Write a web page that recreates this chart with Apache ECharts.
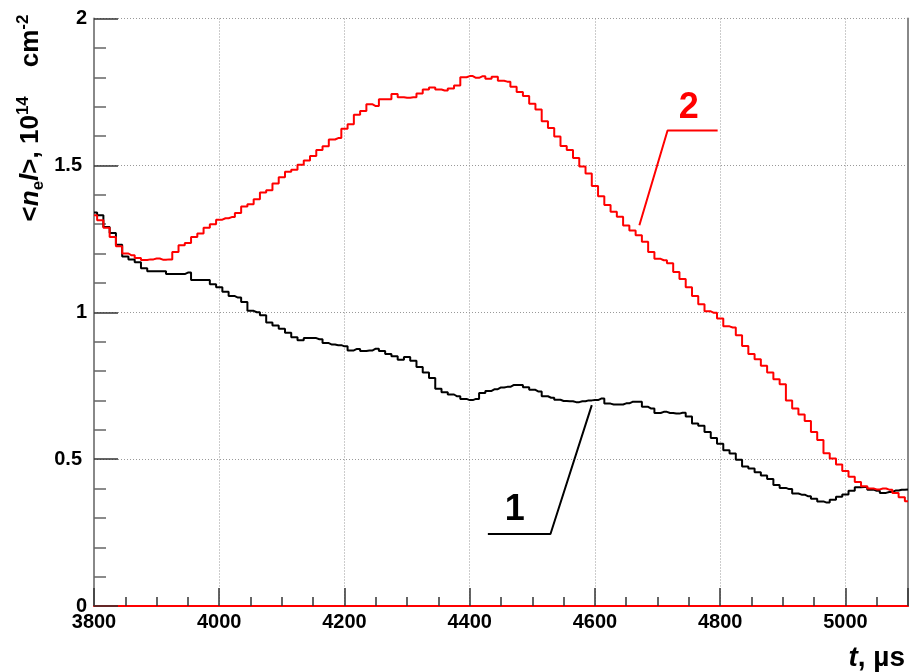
<!DOCTYPE html>
<html>
<head>
<meta charset="utf-8">
<script src="https://cdn.jsdelivr.net/npm/echarts@6/dist/echarts.min.js"></script>
<style>
  html, body { margin: 0; padding: 0; background: #fff; }
  #chart { width: 911px; height: 672px; }
</style>
</head>
<body>
<div id="chart"></div>
<script>
// Time bins, µs
const times = [
  3800, 3810, 3820, 3830, 3840, 3850, 3860, 3870, 3880, 3890,
  3900, 3910, 3920, 3930, 3940, 3950, 3960, 3970, 3980, 3990,
  4000, 4010, 4020, 4030, 4040, 4050, 4060, 4070, 4080, 4090,
  4100, 4110, 4120, 4130, 4140, 4150, 4160, 4170, 4180, 4190,
  4200, 4210, 4220, 4230, 4240, 4250, 4260, 4270, 4280, 4290,
  4300, 4310, 4320, 4330, 4340, 4350, 4360, 4370, 4380, 4390,
  4400, 4410, 4420, 4430, 4440, 4450, 4460, 4470, 4480, 4490,
  4500, 4510, 4520, 4530, 4540, 4550, 4560, 4570, 4580, 4590,
  4600, 4610, 4620, 4630, 4640, 4650, 4660, 4670, 4680, 4690,
  4700, 4710, 4720, 4730, 4740, 4750, 4760, 4770, 4780, 4790,
  4800, 4810, 4820, 4830, 4840, 4850, 4860, 4870, 4880, 4890,
  4900, 4910, 4920, 4930, 4940, 4950, 4960, 4970, 4980, 4990,
  5000, 5010, 5020, 5030, 5040, 5050, 5060, 5070, 5080, 5090,
  5100
];

// Line-integrated density <n_e l>, 10^14 cm^-2 — shot 1 (black)
const density1 = [
  1.34, 1.33, 1.29, 1.27, 1.23, 1.19, 1.18, 1.17, 1.15, 1.14,
  1.14, 1.14, 1.13, 1.13, 1.13, 1.135, 1.11, 1.11, 1.11, 1.095,
  1.085, 1.07, 1.055, 1.05, 1.035, 1.005, 1.0, 0.99, 0.965, 0.955,
  0.944, 0.93, 0.915, 0.905, 0.912, 0.912, 0.908, 0.895, 0.89, 0.888,
  0.884, 0.87, 0.875, 0.868, 0.87, 0.876, 0.868, 0.858, 0.85, 0.838,
  0.848, 0.835, 0.814, 0.795, 0.776, 0.74, 0.728, 0.72, 0.714, 0.705,
  0.701, 0.705, 0.725, 0.732, 0.738, 0.744, 0.746, 0.752, 0.752, 0.745,
  0.736, 0.73, 0.714, 0.709, 0.702, 0.698, 0.697, 0.694, 0.697, 0.70,
  0.701, 0.706, 0.689, 0.686, 0.686, 0.69, 0.695, 0.695, 0.678, 0.672,
  0.657, 0.661, 0.657, 0.655, 0.658, 0.645, 0.621, 0.614, 0.592, 0.572,
  0.552, 0.53, 0.519, 0.498, 0.475, 0.468, 0.455, 0.444, 0.432, 0.412,
  0.402, 0.398, 0.383, 0.379, 0.374, 0.365, 0.356, 0.352, 0.362, 0.372,
  0.38, 0.392, 0.404, 0.405, 0.396, 0.392, 0.385, 0.388, 0.393, 0.396,
  0.397
];

// Line-integrated density <n_e l>, 10^14 cm^-2 — shot 2 (red)
const density2 = [
  1.33, 1.313, 1.288, 1.256, 1.225, 1.20, 1.194, 1.185, 1.178, 1.18,
  1.183, 1.179, 1.18, 1.205, 1.228, 1.236, 1.256, 1.268, 1.288, 1.30,
  1.315, 1.32, 1.324, 1.338, 1.36, 1.368, 1.385, 1.408, 1.415, 1.438,
  1.46, 1.478, 1.485, 1.502, 1.517, 1.532, 1.552, 1.565, 1.588, 1.593,
  1.625, 1.64, 1.672, 1.685, 1.708, 1.702, 1.725, 1.725, 1.743, 1.732,
  1.73, 1.732, 1.745, 1.758, 1.765, 1.758, 1.755, 1.762, 1.772, 1.80,
  1.804, 1.798, 1.803, 1.795, 1.802, 1.788, 1.785, 1.768, 1.75, 1.736,
  1.71, 1.69, 1.65, 1.627, 1.598, 1.566, 1.552, 1.525, 1.496, 1.472,
  1.43, 1.395, 1.365, 1.342, 1.325, 1.295, 1.278, 1.262, 1.24, 1.205,
  1.182, 1.177, 1.167, 1.137, 1.113, 1.085, 1.055, 1.027, 1.003, 0.998,
  0.979, 0.952, 0.948, 0.922, 0.885, 0.858, 0.84, 0.818, 0.795, 0.772,
  0.755, 0.70, 0.672, 0.652, 0.63, 0.592, 0.565, 0.52, 0.502, 0.482,
  0.46, 0.44, 0.422, 0.408, 0.40, 0.397, 0.40, 0.396, 0.385, 0.37,
  0.357
];

// Axis ticks
const xTicks = [3800, 4000, 4200, 4400, 4600, 4800, 5000];
const yTicks = [0, 0.5, 1, 1.5, 2];

// Curve tags and their leader lines, in data coordinates
const tagText = ['1', '2'];
const tagPos = [[4472, 0.327], [4750, 1.694]];
const leader1 = [[4429, 0.245], [4529, 0.245], [4595, 0.684]];
const leader2 = [[4796, 1.619], [4716, 1.619], [4671, 1.296]];

const FONT = '"Liberation Sans", Arial, Helvetica, sans-serif';

const pairs = (ys) => times.map((t, i) => [t, ys[i]]);

const chart = echarts.init(document.getElementById('chart'), null, { renderer: 'canvas' });

const option = {
  animation: false,
  backgroundColor: '#ffffff',
  grid: { left: 94, right: 1, top: 18.5, bottom: 66, containLabel: false },
  xAxis: {
    type: 'value',
    min: xTicks[0],
    max: 5100,
    interval: 200,
    axisLine: { show: true, onZero: false, lineStyle: { color: '#ff0000', width: 2 } },
    axisTick: { show: true, inside: true, length: 18, lineStyle: { color: '#333', width: 1.5 } },
    minorTick: { show: true, splitNumber: 4, length: 9, lineStyle: { color: '#333', width: 1.5 } },
    splitLine: { show: true, lineStyle: { color: '#999', type: [1, 2], width: 1 } },
    axisLabel: {
      show: true, margin: 6, color: '#000', fontFamily: FONT, fontWeight: 'bold', fontSize: 20,
      formatter: (v) => (xTicks.indexOf(v) >= 0 ? String(v) : '')
    }
  },
  yAxis: [
    {
      type: 'value',
      min: yTicks[0],
      max: yTicks[yTicks.length - 1],
      interval: 0.5,
      axisLine: { show: true, onZero: false, lineStyle: { color: '#888', width: 2 } },
      axisTick: { show: true, inside: true, length: 24, lineStyle: { color: '#333', width: 1.5 } },
      minorTick: { show: true, splitNumber: 5, length: 12, lineStyle: { color: '#666', width: 1.5 } },
      splitLine: { show: true, lineStyle: { color: '#999', type: [1, 2], width: 1 } },
      axisLabel: {
        show: true, margin: 7, color: '#000', fontFamily: FONT, fontWeight: 'bold', fontSize: 20,
        formatter: (v) => (v % 1 === 0 ? '{i|' + v + '}' : '{d|' + v + '}'),
        rich: {
          i: { fontFamily: FONT, fontWeight: 'bold', fontSize: 20, color: '#000' },
          d: { fontFamily: FONT, fontWeight: 'bold', fontSize: 20, color: '#000', padding: [0, 5, 0, 0] }
        }
      }
    },
    {
      type: 'value',
      position: 'right',
      min: 0, max: 2,
      axisLine: { show: true, onZero: false, lineStyle: { color: '#888', width: 2 } },
      axisTick: { show: false },
      axisLabel: { show: false },
      splitLine: { show: false }
    }
  ],
  series: [
    {
      name: '1', type: 'line', step: 'middle', data: pairs(density1),
      showSymbol: false, symbol: 'none', silent: true,
      lineStyle: { color: '#000000', width: 2 }, z: 3
    },
    {
      name: '2', type: 'line', step: 'middle', data: pairs(density2),
      showSymbol: false, symbol: 'none', silent: true,
      lineStyle: { color: '#ff0000', width: 2 }, z: 4
    },
    {
      name: 'leader1', type: 'line', data: leader1, showSymbol: false, symbol: 'none', silent: true,
      lineStyle: { color: '#000000', width: 2 }, z: 5
    },
    {
      name: 'leader2', type: 'line', data: leader2, showSymbol: false, symbol: 'none', silent: true,
      lineStyle: { color: '#ff0000', width: 2 }, z: 5
    }
  ]
};

chart.setOption(option);

// Axis titles and curve tags
const tagColors = ['#000000', '#ff0000'];
const tagGraphics = tagPos.map((p, i) => {
  const px = chart.convertToPixel({ gridIndex: 0 }, p);
  return {
    type: 'text', x: px[0], y: px[1], z: 10,
    style: {
      text: tagText[i], fill: tagColors[i], font: 'bold 36px ' + FONT,
      align: 'center', verticalAlign: 'middle'
    }
  };
});

chart.setOption({
  graphic: [
    {
      type: 'text', x: 31, y: 118, rotation: Math.PI / 2, z: 10,
      style: {
        text: '{m|<}{mi|n}{sub|e}{mi|l}{m|>, 10}{sup|14}{m|    cm}{sup|-2}',
        align: 'center', verticalAlign: 'middle',
        rich: {
          m: { fontFamily: FONT, fontWeight: 'bold', fontSize: 26, lineHeight: 32, fill: '#000' },
          mi: { fontFamily: FONT, fontWeight: 'bold', fontStyle: 'italic', fontSize: 26, lineHeight: 32, fill: '#000' },
          sub: { fontFamily: FONT, fontWeight: 'bold', fontSize: 17, lineHeight: 17, verticalAlign: 'bottom', fill: '#000' },
          sup: { fontFamily: FONT, fontWeight: 'bold', fontSize: 17, lineHeight: 17, verticalAlign: 'top', fill: '#000' }
        }
      }
    },
    {
      type: 'text', x: 905, y: 658, z: 10,
      style: {
        text: '{it|t}{m|, µs}',
        align: 'right', verticalAlign: 'middle',
        rich: {
          it: { fontFamily: FONT, fontWeight: 'bold', fontStyle: 'italic', fontSize: 28, fill: '#000' },
          m: { fontFamily: FONT, fontWeight: 'bold', fontSize: 28, fill: '#000' }
        }
      }
    }
  ].concat(tagGraphics)
});
</script>
</body>
</html>
